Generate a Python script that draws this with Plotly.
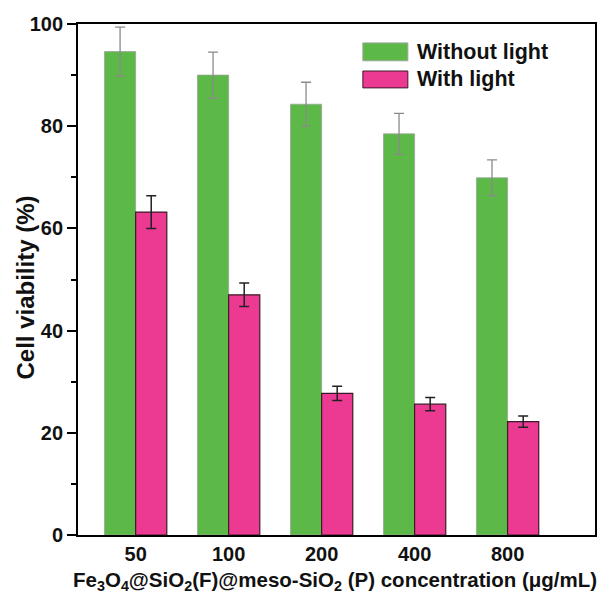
import plotly.graph_objects as go

categories = ["50", "100", "200", "400", "800"]
without_light = [94.6, 90.0, 84.3, 78.5, 69.9]
without_err = [4.8, 4.5, 4.3, 4.0, 3.5]
with_light = [63.2, 47.0, 27.7, 25.6, 22.2]
with_err = [3.2, 2.3, 1.4, 1.3, 1.1]
y_ticks = [0, 20, 40, 60, 80, 100]

green = "#5DB947"
pink = "#EC3A93"
font_family = "Liberation Sans, Arial, sans-serif"

fig = go.Figure()
fig.add_trace(go.Bar(
    x=categories, y=without_light, name="Without light",
    marker=dict(color=green, line=dict(color="#9aa59a", width=0.8)),
    error_y=dict(type="data", array=without_err, color="#8a8a8a", thickness=1.3, width=5),
))
fig.add_trace(go.Bar(
    x=categories, y=with_light, name="With light",
    marker=dict(color=pink, line=dict(color="#3a1a28", width=1.2)),
    error_y=dict(type="data", array=with_err, color="#222222", thickness=1.5, width=5),
))

# manual legend (large swatches)
legend_items = [("Without light", green, "#9aa59a", 0.928, 0.963),
                ("With light", pink, "#3a1a28", 0.875, 0.908)]
for label, col, lc, y0, y1 in legend_items:
    fig.add_shape(type="rect", xref="paper", yref="paper",
                  x0=0.551, x1=0.638, y0=y0, y1=y1,
                  fillcolor=col, line=dict(color=lc, width=1))
    fig.add_annotation(xref="paper", yref="paper", x=0.651, y=(y0 + y1) / 2,
                       text="<b>%s</b>" % label, showarrow=False, xanchor="left",
                       yanchor="middle", font=dict(size=21.5, color="#111111", family=font_family))

# axis titles
fig.add_annotation(xref="paper", yref="paper", x=0, y=0.5, xshift=-53, yshift=-8,
                   textangle=-90, showarrow=False, xanchor="center", yanchor="middle",
                   text="<b>Cell viability (%)</b>",
                   font=dict(size=24, color="#111111", family=font_family))
fig.add_annotation(xref="paper", yref="paper", x=0.497, y=0, yshift=-31,
                   showarrow=False, xanchor="center", yanchor="top",
                   text="<b>Fe<sub>3</sub>O<sub>4</sub>@SiO<sub>2</sub>(F)@meso-SiO<sub>2</sub> (P) concentration (μg/mL)</b>",
                   font=dict(size=20.5, color="#111111", family=font_family))

fig.update_layout(
    width=589, height=586,
    margin=dict(l=70, r=2, t=16, b=59),
    plot_bgcolor="white", paper_bgcolor="white",
    barmode="group", bargap=0.33, bargroupgap=0,
    showlegend=False,
    font=dict(family=font_family, size=16, color="#111111"),
)
fig.update_xaxes(
    type="category", range=[-0.62, 4.94], automargin=False,
    showline=True, linecolor="black", linewidth=1.8, mirror=True,
    ticks="", tickfont=dict(size=20, family=font_family),
    tickvals=categories, ticktext=["<b>%s</b>" % c for c in categories],
    showgrid=False,
)
fig.update_yaxes(
    range=[0, 100], automargin=False,
    showline=True, linecolor="black", linewidth=1.8, mirror=True,
    ticks="outside", ticklen=9, tickwidth=1.8, tickcolor="black",
    tickvals=y_ticks, ticktext=["<b>%d</b>" % v for v in y_ticks],
    tickfont=dict(size=20, family=font_family),
    minor=dict(dtick=10, ticks="outside", ticklen=5, tickwidth=1.5, tickcolor="black"),
    showgrid=False, zeroline=False,
)

fig.write_html("out.html")
